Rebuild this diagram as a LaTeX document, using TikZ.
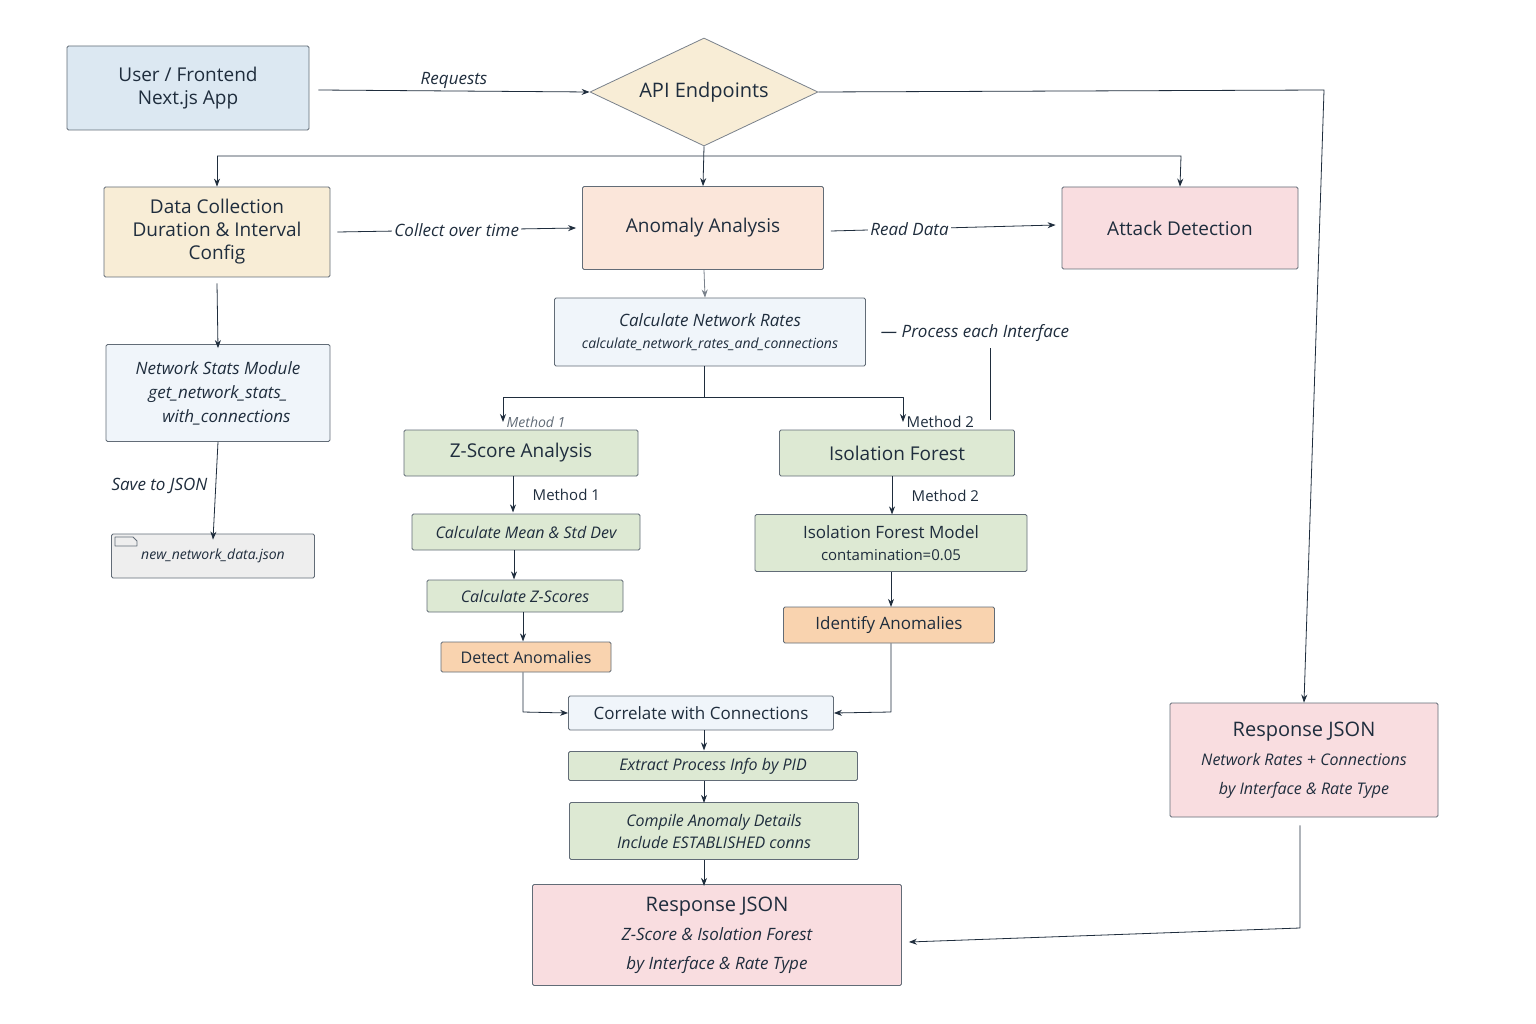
\documentclass[tikz,border=0pt]{standalone}
\usepackage{fontspec}
\setmainfont{Open Sans}
\usetikzlibrary{shapes.geometric,arrows.meta}
\definecolor{ink}{HTML}{1F2D3D}
\definecolor{cblue}{HTML}{DCE8F2}
\definecolor{csand}{HTML}{F8EDD6}
\definecolor{cpeach}{HTML}{FBE6DA}
\definecolor{cpink}{HTML}{F9DDE0}
\definecolor{clight}{HTML}{F0F5FA}
\definecolor{cgreen}{HTML}{DDE9D3}
\definecolor{corange}{HTML}{F9D3AF}
\definecolor{cgrey}{HTML}{EEEEEE}
\begin{document}
\begin{tikzpicture}[x=1pt,y=-1pt,>={Stealth[length=8pt,width=6pt]},line join=round,thick,
  every node/.style={text=ink},
  box/.style={draw=ink!70,rounded corners=1.5pt,align=center,inner sep=0pt,font=\fontsize{19}{23}\selectfont},
  lbl/.style={font=\fontsize{17}{20}\selectfont\itshape,fill=white,inner sep=2pt},
  meth/.style={font=\fontsize{15}{18}\selectfont},
  wire/.style={draw=ink,->}]
\useasboundingbox[fill=white] (0,0) rectangle (1536,1024);
% top row
\node[box,fill=cblue,minimum width=242,minimum height=84] (user) at (188,88) {User / Frontend\\Next.js App};
\node[draw=ink!60,fill=csand,diamond,aspect=2.1,minimum width=228,minimum height=108,inner sep=0pt,font=\fontsize{20}{24}\selectfont] (api) at (704,92) {API Endpoints};
\node[box,fill=csand,minimum width=226,minimum height=90] (coll) at (217,232) {Data Collection\\Duration \& Interval\\Config};
\node[box,fill=cpeach,minimum width=241,minimum height=83] (anom) at (703,228) {Anomaly Analysis};
\node[box,fill=cpink,minimum width=236,minimum height=82] (attack) at (1180,228) {Attack Detection};
% left column
\node[box,fill=clight,minimum width=224,minimum height=97,font=\fontsize{17}{24}\selectfont\itshape] (stats) at (218,393) {Network Stats Module\\get\_network\_stats\_\\\quad with\_connections};
\node[box,fill=cgrey,minimum width=203,minimum height=44,font=\fontsize{14}{17}\selectfont\itshape] (file) at (213,556) {new\_network\_data.json};
\draw[ink!70,fill=cgrey] (115,546) -- (115,537) -- (133,537) -- (137,541) -- (137,546) -- cycle;
% centre
\node[box,fill=clight,minimum width=311,minimum height=68,font=\fontsize{17}{22}\selectfont\itshape] (rates) at (710,332) {Calculate Network Rates\\{\fontsize{14}{18}\selectfont calculate\_network\_rates\_and\_connections}};
\node[box,fill=cgreen,minimum width=234,minimum height=46] (zsc) at (521,453) {Z-Score Analysis};
\node[box,fill=cgreen,minimum width=235,minimum height=46] (iso) at (897,453) {Isolation Forest};
\node[box,fill=cgreen,minimum width=228,minimum height=36,font=\fontsize{16}{20}\selectfont\itshape] (mean) at (526,532) {Calculate Mean \& Std Dev};
\node[box,fill=cgreen,minimum width=196,minimum height=32,font=\fontsize{16}{20}\selectfont\itshape] (zval) at (525,596) {Calculate Z-Scores};
\node[box,fill=corange,minimum width=170,minimum height=30,font=\fontsize{16}{20}\selectfont] (detect) at (526,657) {Detect Anomalies};
\node[box,fill=cgreen,minimum width=272,minimum height=57,font=\fontsize{17}{22}\selectfont] (model) at (891,543) {Isolation Forest Model\\{\fontsize{15}{18}\selectfont contamination=0.05}};
\node[box,fill=corange,minimum width=211,minimum height=36,font=\fontsize{17}{20}\selectfont] (ident) at (889,625) {Identify Anomalies};
\node[box,fill=clight,minimum width=265,minimum height=34,font=\fontsize{17}{20}\selectfont] (corr) at (701,713) {Correlate with Connections};
\node[box,fill=cgreen,minimum width=289,minimum height=29,font=\fontsize{16}{20}\selectfont\itshape] (proc) at (713,766) {Extract Process Info by PID};
\node[box,fill=cgreen,minimum width=289,minimum height=57,font=\fontsize{16}{22}\selectfont\itshape] (comp) at (714,831) {Compile Anomaly Details\\Include ESTABLISHED conns};
\node[box,fill=cpink,minimum width=369,minimum height=101,font=\fontsize{20}{29}\selectfont] (resp) at (717,935) {Response JSON\\{\fontsize{17}{27}\selectfont\itshape Z-Score \& Isolation Forest}\\{\fontsize{17}{20}\selectfont\itshape by Interface \& Rate Type}};
\node[box,fill=cpink,minimum width=268,minimum height=114,font=\fontsize{20}{29}\selectfont] (resp2) at (1304,760) {Response JSON\\{\fontsize{16}{27}\selectfont\itshape Network Rates + Connections}\\{\fontsize{16}{20}\selectfont\itshape by Interface \& Rate Type}};
% connectors
\draw[wire] (user.east) ++(9,2) coordinate (u1) (u1) -- (api.west) node[midway,above,lbl,fill=none] {Requests};
\draw[wire] (api.east) -- (1324,90) -- (resp2.north);
\draw[wire] (api.south) -- (anom.north);
\draw[wire] (217,156) -- (coll.north);
\draw[wire] (217,156) -- (1181,156) -- (attack.north);
\draw[wire] (coll.east) ++(7,0) coordinate (c1) (c1) -- ([xshift=-6pt]anom.west) node[midway,lbl] {Collect over time};
\draw[wire] (anom.east) ++(7,3) coordinate (a1) (a1) -- ([xshift=-6pt,yshift=3pt]attack.west) node[pos=.35,lbl] {Read Data};
\draw[wire,draw=ink!60] (anom.south) ++(1,0) -- ([xshift=-5pt]rates.north);
\draw[wire] (coll.south) ++(0,6) -- ([yshift=-4pt]stats.north);
\draw[wire] (stats.south) -- ([yshift=-6pt]file.north) node[pos=.45,left=6pt,lbl,fill=none] {Save to JSON};
\draw[wire] ([xshift=-6pt]rates.south) -- (704,397) -- (503,397) -- (503,422) node[right,meth,font=\fontsize{14}{17}\selectfont\itshape,text=ink!70] {Method 1};
\draw[wire] (704,397) -- (903,397) -- (903,422) node[right,meth] {Method 2};
\node[lbl] (each) at (975,333) {— Process each Interface};
\draw[ink] (990,348) -- (990,420);
\draw[wire] (zsc.south) ++(-8,0) -- ++(0,36) node[midway,right=16pt,meth] {Method 1};
\draw[wire] (iso.south) ++(-5,0) -- ++(0,38) node[midway,right=16pt,meth] {Method 2};
\draw[wire] (mean.south) ++(-12,0) -- ++(0,29);
\draw[wire] (zval.south) ++(-2,0) -- ++(0,29);
\draw[wire] (model.south) -- ++(0,35);
\draw[wire] (detect.south) ++(-3,0) -- (523,712) -- (corr.west);
\draw[wire] (ident.south) ++(2,0) -- (891,712) -- (corr.east);
\draw[wire] (corr.south) ++(3,0) -- ++(0,20);
\draw[wire] (proc.south) ++(-9,0) -- ++(0,22);
\draw[wire] (comp.south) ++(-10,0) -- ++(0,26);
\draw[wire] (resp2.south) ++(-4,8) -- (1300,928) -- ([xshift=7pt,yshift=-7pt]resp.east);
\end{tikzpicture}
\end{document}
